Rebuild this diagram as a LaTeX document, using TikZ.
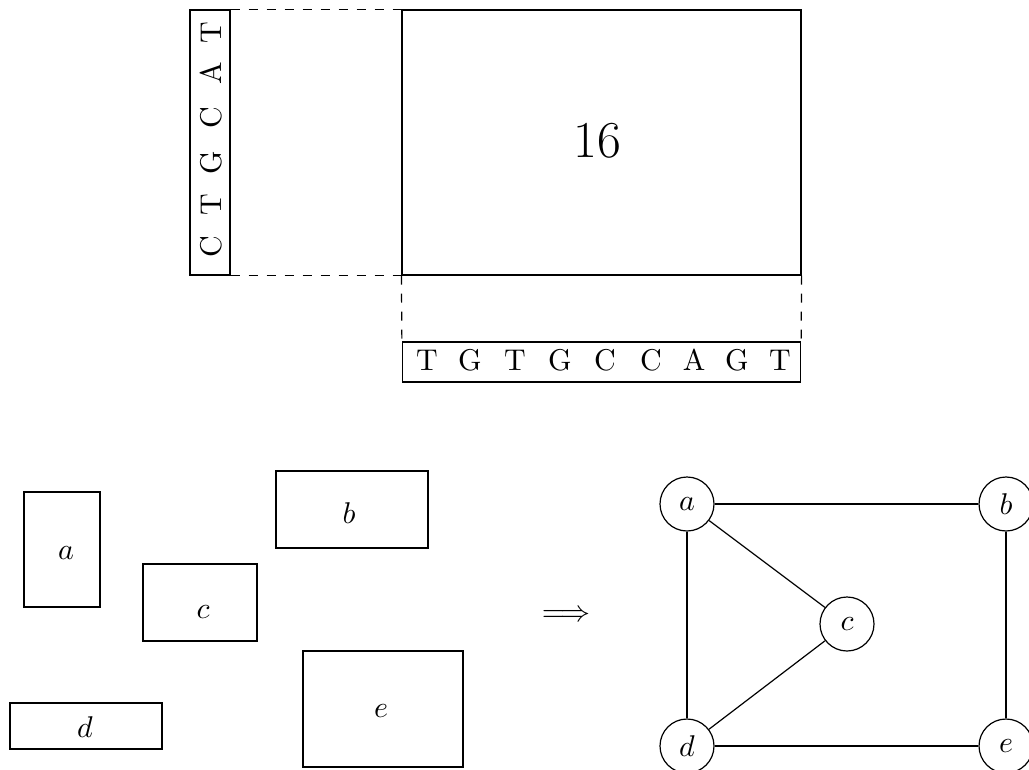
\documentclass[tikz,border=0pt]{standalone}
\usetikzlibrary{calc}
\begin{document}
\begin{tikzpicture}[x={(0.33333pt,0)},y={(0,-0.33333pt)},
  line width=0.4pt,
  box/.style={draw,rectangle,inner sep=0pt},
  vert/.style={circle,draw,minimum size=18pt,inner sep=0pt},
  lab/.style={inner sep=0pt},
  base/.style={inner sep=0pt,font=\rmfamily},
  dashline/.style={dashed}]
\clip (0,0) rectangle (1029,769);
% top part
\node[box,minimum width=13.33pt,minimum height=88.33pt] (vs) at (210,142.5) {};
\node[box,minimum width=133pt,minimum height=88.33pt] (big) at (601.5,142.5) {};
\node[lab,font=\LARGE] (sixteen) at (597,141) {16};
\node[box,minimum width=132.67pt,minimum height=13.33pt] (hs) at (601.5,362) {};
\foreach \l/\yy [count=\i] in {C/247,T/205,G/163,C/118,A/73,T/33}
  \node[base,rotate=90] (v\i) at (211,\yy) {\l};
\foreach \l/\xx [count=\i] in {T/427,G/470,T/515,G/560,C/605,C/651,A/694,G/737,T/780}
  \node[base] (h\i) at (\xx,363) {\strut\l};
\draw[dashline] (vs.north east) -- (big.north west);
\draw[dashline] (vs.south east) -- (big.south west);
\draw[dashline] (big.south west) -- (hs.north west);
\draw[dashline] (big.south east) -- (hs.north east);
% rectangles
\node[box,minimum width=25.33pt,minimum height=38.33pt] (ra) at (62,549.5) {};
\node[box,minimum width=50.67pt,minimum height=25.67pt] (rb) at (352,509.5) {};
\node[box,minimum width=38pt,minimum height=25.67pt] (rc) at (200,602.5) {};
\node[box,minimum width=50.67pt,minimum height=15.33pt] (rd) at (86,726) {};
\node[box,minimum width=53.33pt,minimum height=38.67pt] (re) at (383,709) {};
\node[lab] (la) at (66,553) {$a$};
\node[lab] (lb) at (349,513) {$b$};
\node[lab] (lc) at (203,612) {$c$};
\node[lab] (ld) at (85,727) {$d$};
\node[lab] (le) at (381,711) {$e$};
\node[lab] (arrow) at (566,616) {$\Longrightarrow$};
% graph
\node[vert] (a) at (687,504) {$a$};
\node[vert] (b) at (1006,504) {$b$};
\node[vert] (c) at (847,624) {$c$};
\node[vert] (d) at (687,746) {$d$};
\node[vert] (e) at (1006,746) {$e$};
\draw (a) -- (b);
\draw (a) -- (c);
\draw (a) -- (d);
\draw (c) -- (d);
\draw (b) -- (e);
\draw (d) -- (e);
\end{tikzpicture}
\end{document}
